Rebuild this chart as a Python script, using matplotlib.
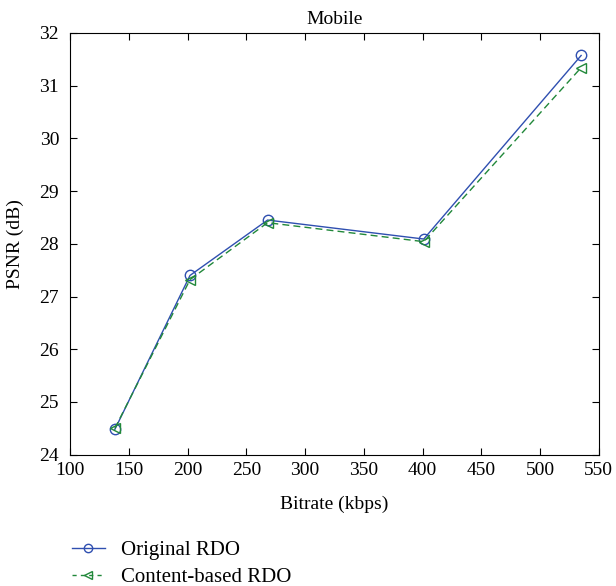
import matplotlib
matplotlib.use("Agg")
import matplotlib.pyplot as plt
from matplotlib.lines import Line2D

bitrate = [138, 202, 268, 401, 535]
psnr_original = [24.48, 27.40, 28.45, 28.09, 31.57]
psnr_content = [24.50, 27.32, 28.40, 28.04, 31.34]
xticks = [100, 150, 200, 250, 300, 350, 400, 450, 500, 550]
yticks = [24, 25, 26, 27, 28, 29, 30, 31, 32]

plt.rcParams['font.family'] = ['Liberation Serif', 'DejaVu Serif']

fig = plt.figure(figsize=(6.16, 5.86), dpi=100)
ax = fig.add_axes([0.114, 0.224, 0.858, 0.720])

blue = '#2f4fb0'
green = '#21883a'
ax.plot(bitrate, psnr_original, '-', color=blue, lw=1.0, marker='o', ms=7.5,
        mfc='none', mec=blue, mew=1.0, label='Original RDO')
ax.plot(bitrate, psnr_content, '--', color=green, lw=1.0, marker='<', ms=7.5,
        mfc='none', mec=green, mew=1.0, dashes=(5, 3), label='Content-based RDO')

ax.set_xlim(100, 550)
ax.set_ylim(24, 32)
ax.set_xticks(xticks)
ax.set_yticks(yticks)
ax.tick_params(direction='in', top=True, right=True, length=5, labelsize=14)
ax.tick_params(axis='x', pad=5)
ax.tick_params(axis='y', pad=8)
ax.set_xlabel('Bitrate (kbps)', fontsize=14, labelpad=12)
ax.set_ylabel('PSNR (dB)', fontsize=14, labelpad=11)
ax.set_title('Mobile', fontsize=14, pad=6)

handles = [Line2D([], [], color=blue, lw=1.0, marker='o', ms=6, mfc='none', mec=blue),
           Line2D([], [], color=green, lw=1.0, ls='--', dashes=(3, 3), marker='<', ms=6, mfc='none', mec=green)]
fig.legend(handles, ['Original RDO', 'Content-based RDO'], loc='upper left',
           bbox_to_anchor=(0.086, 0.11), frameon=False, fontsize=15,
           handlelength=1.6, labelspacing=0.38, handletextpad=0.75)

fig.savefig('out.png', dpi=100)
